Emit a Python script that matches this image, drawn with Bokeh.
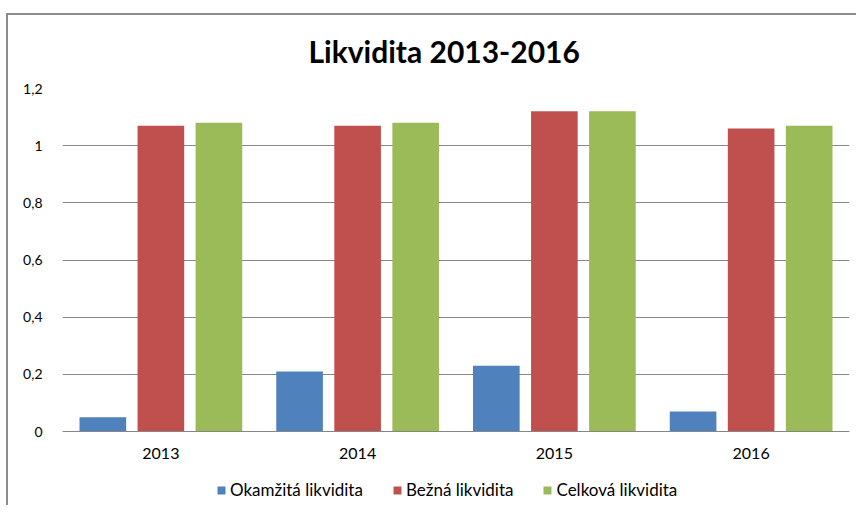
from bokeh.plotting import figure
from bokeh.models import FactorRange, FixedTicker, Legend, LegendItem, ColumnDataSource, Range1d
from bokeh.transform import dodge
from bokeh.embed import file_html
from bokeh.resources import INLINE

years = ["2013", "2014", "2015", "2016"]
okamzita = [0.05, 0.21, 0.23, 0.07]
bezna = [1.07, 1.07, 1.12, 1.06]
celkova = [1.08, 1.08, 1.12, 1.07]
series_names = ["Okamžitá likvidita", "Bežná likvidita", "Celková likvidita"]
colors = ["#4F81BD", "#C0504D", "#9BBB59"]
y_ticks = [0, 0.2, 0.4, 0.6, 0.8, 1.0, 1.2]
y_tick_labels = ["0", "0,2", "0,4", "0,6", "0,8", "1", "1,2"]

W, H = 856, 505
frame_left, frame_right, frame_top, zero_px = 62, 849, 88, 431
ymax = 1.2
px_per_unit = (zero_px - frame_top) / ymax
ymin = -(H - zero_px) / px_per_unit

src = ColumnDataSource(dict(x=years, a=okamzita, b=bezna, c=celkova))

p = figure(x_range=FactorRange(*years, range_padding=0), y_range=Range1d(ymin, ymax),
           width=W, height=H, output_backend="svg", toolbar_location=None,
           min_border_left=frame_left, min_border_right=W - frame_right,
           min_border_bottom=0, min_border_top=frame_top)

p.title.text = "Likvidita 2013-2016"
p.title.align = "left"
p.title.offset = 246
p.title.text_font = "Lato"
p.title.text_font_size = "30px"
p.title.text_font_style = "bold"
p.title.text_color = "#000000"
p.title.standoff = 39

offs = [-0.295, 0.0, 0.295]
renderers = []
for col, off, color in zip(["a", "b", "c"], offs, colors):
    r = p.vbar(x=dodge("x", off, range=p.x_range), top=col, width=0.237, source=src,
               fill_color=color, line_color=None)
    renderers.append(r)

legend = Legend(items=[LegendItem(label=n, renderers=[r]) for n, r in zip(series_names, renderers)],
                orientation="horizontal", location=(154, 5))
legend.label_text_font = "Lato"
legend.label_text_font_size = "17px"
legend.label_text_color = "#000000"
legend.glyph_width = 10
legend.glyph_height = 10
legend.spacing = 29
legend.label_standoff = 4
legend.border_line_color = None
legend.background_fill_alpha = 0
legend.padding = 0
legend.margin = 0
p.add_layout(legend)

p.yaxis.ticker = FixedTicker(ticks=y_ticks)
p.yaxis.major_label_overrides = {t: l for t, l in zip(y_ticks, y_tick_labels)}
p.yaxis.axis_line_color = None
p.yaxis.major_tick_line_color = None
p.yaxis.minor_tick_line_color = None
p.yaxis.major_tick_out = 0
p.yaxis.major_tick_in = 0
p.yaxis.major_label_text_font = "Lato"
p.yaxis.major_label_text_font_size = "14px"
p.yaxis.major_label_text_color = "#000000"
p.yaxis.major_label_standoff = 20

p.xaxis.fixed_location = 0
p.xaxis.axis_line_color = "#868686"
p.xaxis.axis_line_width = 1
p.xaxis.major_tick_line_color = None
p.xaxis.minor_tick_line_color = None
p.xaxis.major_tick_out = 0
p.xaxis.major_tick_in = 0
p.xaxis.major_label_text_font = "Lato"
p.xaxis.major_label_text_font_size = "16px"
p.xaxis.major_label_text_color = "#000000"
p.xaxis.major_label_standoff = 16

p.xgrid.grid_line_color = None
p.ygrid.grid_line_color = "#868686"
p.ygrid.grid_line_width = 1
p.outline_line_color = None
p.border_fill_alpha = 0
p.styles = {
    "background-image": "linear-gradient(#8c8c8c,#8c8c8c), linear-gradient(#8c8c8c,#8c8c8c)",
    "background-size": "2px 100%, 100% 2px",
    "background-position": "6px 13px, 6px 13px",
    "background-repeat": "no-repeat",
}

open("out.html", "w").write(file_html(p, INLINE))
